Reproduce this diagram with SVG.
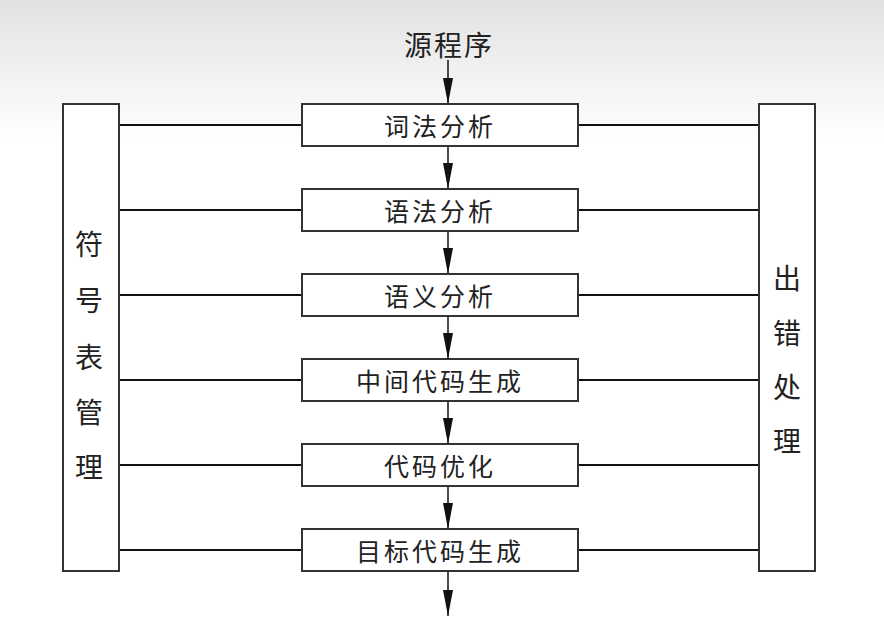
<svg xmlns="http://www.w3.org/2000/svg" width="884" height="623" viewBox="0 0 884 623">
<defs>
<linearGradient id="bg" x1="0" y1="0" x2="0" y2="1">
<stop offset="0" stop-color="#e2e2e2"/>
<stop offset="1" stop-color="#ffffff"/>
</linearGradient>
<marker id="ah" viewBox="0 0 26 10" refX="26" refY="5" markerWidth="26" markerHeight="10" markerUnits="userSpaceOnUse" orient="auto">
<path d="M0,0 L26,5 L0,10 Z" fill="#111"/>
</marker>
</defs>
<style>
.box{fill:#fff;stroke:#333;stroke-width:2}
.t{font-family:"Noto Sans CJK SC","Noto Sans",sans-serif;font-size:25px;fill:#222;text-anchor:middle;dominant-baseline:central;letter-spacing:3px}
.v{font-family:"Noto Sans CJK SC","Noto Sans",sans-serif;font-size:28px;fill:#222;text-anchor:middle;dominant-baseline:central}
.ln{stroke:#111;stroke-width:2;fill:none}
.ar{stroke:#111;stroke-width:1.5;fill:none;marker-end:url(#ah)}
</style>
<rect x="0" y="0" width="884" height="140" fill="url(#bg)"/>
<rect x="0" y="140" width="884" height="483" fill="#fff"/>

<g id="connectors">
<line class="ar" x1="448" y1="60" x2="448" y2="104"/>
<line class="ar" x1="448" y1="146" x2="448" y2="189"/>
<line class="ar" x1="448" y1="231" x2="448" y2="274"/>
<line class="ar" x1="448" y1="316" x2="448" y2="359"/>
<line class="ar" x1="448" y1="401" x2="448" y2="444"/>
<line class="ar" x1="448" y1="486" x2="448" y2="529"/>
<line class="ar" x1="448" y1="571" x2="448" y2="616"/>
<line class="ln" x1="119" y1="125" x2="302" y2="125"/>
<line class="ln" x1="119" y1="210" x2="302" y2="210"/>
<line class="ln" x1="119" y1="295" x2="302" y2="295"/>
<line class="ln" x1="119" y1="380" x2="302" y2="380"/>
<line class="ln" x1="119" y1="465" x2="302" y2="465"/>
<line class="ln" x1="119" y1="550" x2="302" y2="550"/>
<line class="ln" x1="578" y1="125" x2="759" y2="125"/>
<line class="ln" x1="578" y1="210" x2="759" y2="210"/>
<line class="ln" x1="578" y1="295" x2="759" y2="295"/>
<line class="ln" x1="578" y1="380" x2="759" y2="380"/>
<line class="ln" x1="578" y1="465" x2="759" y2="465"/>
<line class="ln" x1="578" y1="550" x2="759" y2="550"/>
</g>

<g id="source"><text class="t" x="449" y="44" style="font-size:28px;letter-spacing:2px">源程序</text></g>

<g id="symtab">
<rect class="box" x="63" y="104" width="56" height="467"/>
<text class="v" x="89" y="243">符</text>
<text class="v" x="89" y="299">号</text>
<text class="v" x="89" y="356">表</text>
<text class="v" x="89" y="411">管</text>
<text class="v" x="89" y="466">理</text>
</g>

<g id="errors">
<rect class="box" x="759" y="104" width="56" height="467"/>
<text class="v" x="787" y="277">出</text>
<text class="v" x="787" y="332">错</text>
<text class="v" x="787" y="386">处</text>
<text class="v" x="787" y="440">理</text>
</g>

<g id="lex"><rect class="box" x="302" y="104" width="276" height="42"/><text class="t" x="440" y="125">词法分析</text></g>
<g id="syntax"><rect class="box" x="302" y="189" width="276" height="42"/><text class="t" x="440" y="210">语法分析</text></g>
<g id="semantic"><rect class="box" x="302" y="274" width="276" height="42"/><text class="t" x="440" y="295">语义分析</text></g>
<g id="ir"><rect class="box" x="302" y="359" width="276" height="42"/><text class="t" x="440" y="380">中间代码生成</text></g>
<g id="opt"><rect class="box" x="302" y="444" width="276" height="42"/><text class="t" x="440" y="465">代码优化</text></g>
<g id="codegen"><rect class="box" x="302" y="529" width="276" height="42"/><text class="t" x="440" y="550">目标代码生成</text></g>
</svg>
